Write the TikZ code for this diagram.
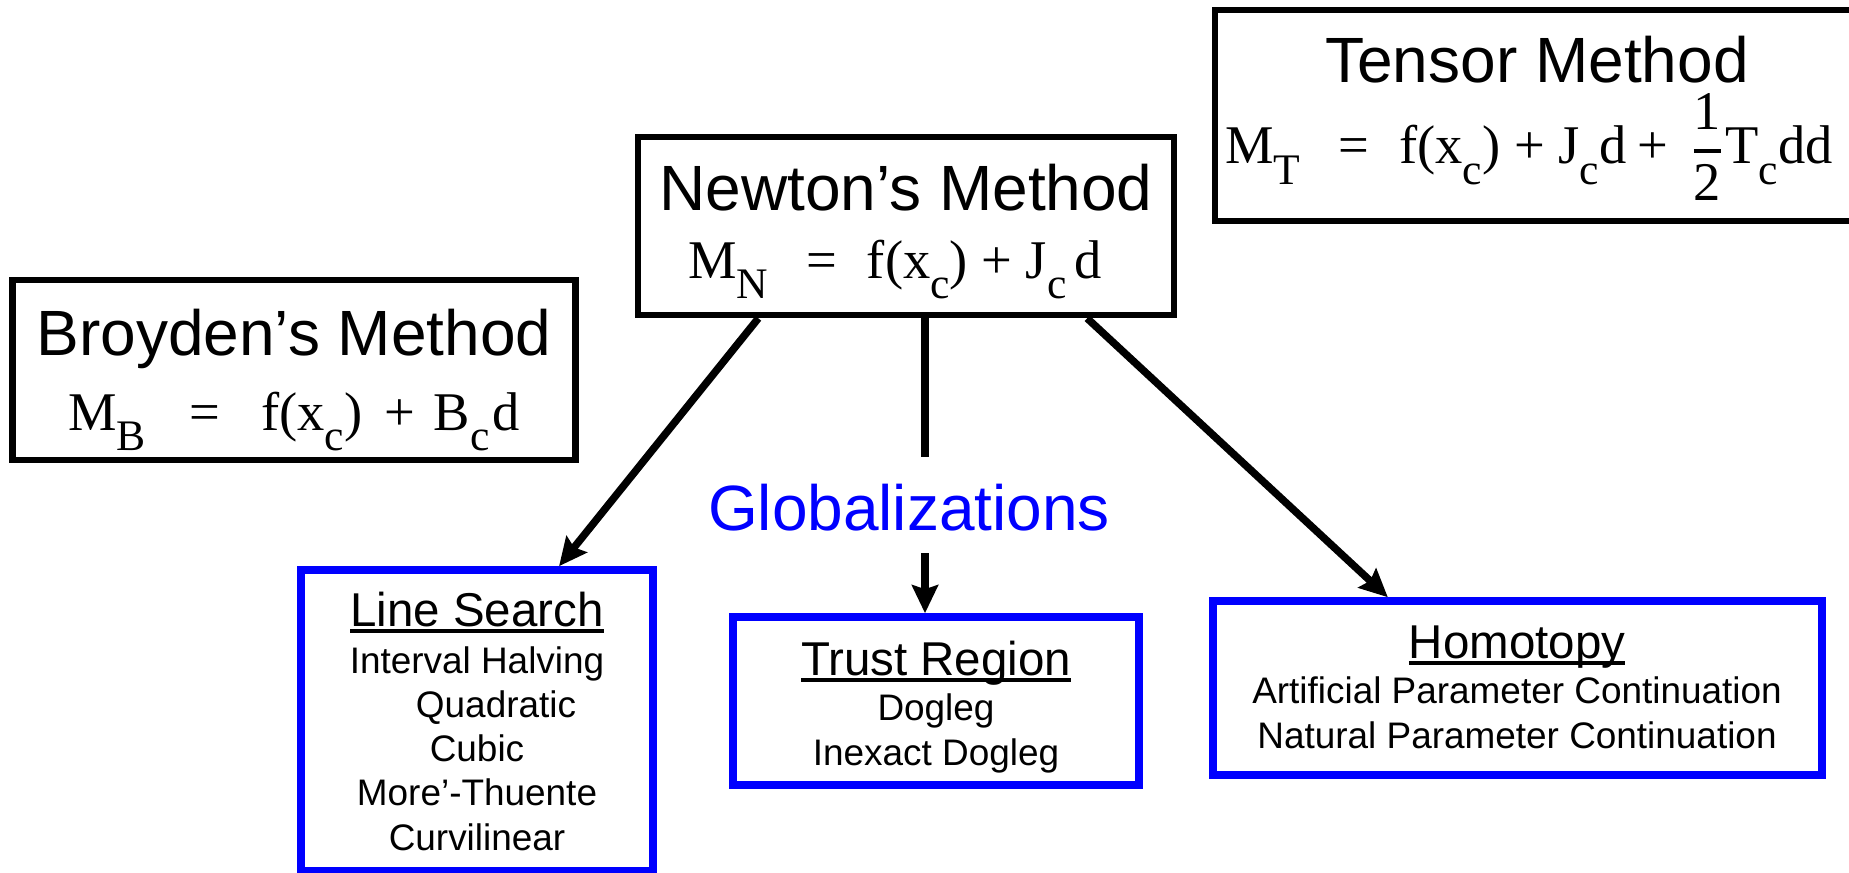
\documentclass[tikz,border=0pt]{standalone}
\usepackage{amsmath}
\usepackage{fontspec}
\setmainfont{Liberation Sans}
\newfontfamily\tnr{Liberation Serif}
\usetikzlibrary{arrows.meta}
\newcommand{\sbx}[1]{\raisebox{-0.38em}{\scalebox{0.8}{#1}}}
\newcommand{\hdr}[1]{\setbox0\hbox{#1}\rlap{\rule[-0.15em]{\wd0}{0.08em}}\box0}
\newcommand{\half}{\genfrac{}{}{1.1pt}{0}{\hbox{1}}{\hbox{2}}}

\begin{document}
\begin{tikzpicture}[x=0.01cm, y=-0.01cm,
  blackbox/.style={draw=black, line width=0.065cm, inner sep=0pt},
  bluebox/.style={draw=blue, line width=0.075cm, inner sep=0pt},
  boxtitle/.style={anchor=base, font=\fontsize{18.2}{21}\selectfont},
  formula/.style={anchor=base, font=\tnr\fontsize{15.5}{18}\selectfont},
  subhead/.style={anchor=base, font=\fontsize{13.5}{16}\selectfont},
  entry/.style={anchor=base, font=\fontsize{10.5}{12.6}\selectfont},
  link/.style={line width=0.075cm, -{Stealth[length=0.28cm, width=0.26cm, inset=0.04cm]}}]
%\draw[help lines] (0,0) grid (1849,873);
\useasboundingbox (0,0) rectangle (1849,873);

% model boxes
\node (tm) [blackbox, minimum width=6.4cm, minimum height=2.11cm] at (1535,115.5) {};
\node (tmt) [boxtitle] at (1537,83) {Tensor Method};
\node (tmf) [formula] at (1529,164) {M\sbx{T}\hspace{0.7em}=\hspace{0.55em}f(x\sbx{c})\hspace{0.25em}+\hspace{0.25em}J\sbx{c}d\hspace{0.2em}+\hspace{0.4em}$\half$T\sbx{c}dd};

\node (nm) [blackbox, minimum width=5.36cm, minimum height=1.78cm] at (906,226) {};
\node (nmt) [boxtitle] at (906,210) {Newton’s Method};
\node (nmf) [formula] at (895,278) {M\sbx{N}\hspace{0.7em}=\hspace{0.55em}f(x\sbx{c})\hspace{0.25em}+\hspace{0.25em}J\sbx{c}\hspace{0.15em}d};

\node (bm) [blackbox, minimum width=5.63cm, minimum height=1.80cm] at (294,370) {};
\node (bmt) [boxtitle] at (294,355) {Broyden’s Method};
\node (bmf) [formula] at (294,430) {M\sbx{B}\hspace{0.8em}=\hspace{0.75em}f(x\sbx{c})\hspace{0.4em}+\hspace{0.35em}B\sbx{c}\hspace{0.05em}d};

\node (gl) [anchor=base, text=blue, font=\fontsize{18.2}{21}\selectfont] at (909,530) {Globalizations};

% globalization boxes
\node (ls) [bluebox, minimum width=3.52cm, minimum height=3.01cm] at (477,720.5) {};
\node (lst) [subhead] at (477,626) {\hdr{Line Search}};
\foreach \m [count=\i from 0] in {Interval Halving, \hspace*{0.38cm}Quadratic, Cubic, More’-Thuente, Curvilinear}
  \node (ls\i) [entry] at (477,{673+44.25*\i}) {\m};

\node (tr) [bluebox, minimum width=4.06cm, minimum height=1.68cm] at (936,701) {};
\node (trt) [subhead] at (936,675) {\hdr{Trust Region}};
\node (tr1) [entry] at (936,720) {Dogleg};
\node (tr2) [entry] at (936,765) {Inexact Dogleg};

\node (hm) [bluebox, minimum width=6.09cm, minimum height=1.74cm] at (1517.5,688) {};
\node (hmt) [subhead] at (1517,658) {\hdr{Homotopy}};
\node (hm1) [entry] at (1517,703) {Artificial Parameter Continuation};
\node (hm2) [entry] at (1517,748) {Natural Parameter Continuation};

\coordinate (gtop) at (925,457);
\coordinate (gbot) at (925,553);
\draw[line width=0.075cm] (nm.south -| gtop) -- (gtop);
\path
(nm.212) edge[link] (ls.62)
(gbot) edge[link] (gbot |- tr.north)
(nm.333) edge[link] (hm.145);
\end{tikzpicture}
\end{document}
